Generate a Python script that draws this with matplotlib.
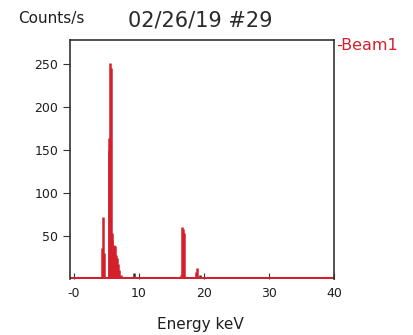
import numpy as np
import matplotlib.pyplot as plt

# peak lines (keV, counts/s)
energy = [4.26, 4.40, 4.52, 4.62, 5.38, 5.45, 5.52, 5.62, 5.66, 5.80, 5.90,
          6.05, 6.20, 6.30, 6.45, 6.60, 6.80, 7.00, 7.20, 9.30,
          16.40, 16.62, 16.72, 16.90, 18.80, 18.95, 19.40]
counts = [36, 20, 72, 30, 150, 164, 160, 251, 245, 45, 53,
          30, 40, 38, 28, 25, 18, 10, 5, 7,
          5, 61, 58, 53, 8, 13, 5]
black_lines = [9.30, 19.40]

xticks = [0, 10, 20, 30, 40]
xlabels = ["-0", "10", "20", "30", "40"]
yticks = [50, 100, 150, 200, 250]

red = "#d4202c"
dark = "#333333"
txt = "#1e1e1e"

fig = plt.figure(figsize=(4.14, 3.35), dpi=100)
ax = fig.add_axes([70/414, 56/335, 264/414, 239/335])

for e, c in zip(energy, counts):
    col = dark if e in black_lines else red
    ax.vlines(e, 0, c, color=col, linewidth=1.8)
ax.axhline(1.0, color=red, linewidth=2.2)

ax.set_xlim(-0.6, 40)
ax.set_ylim(0, 278)
ax.set_xticks(xticks)
ax.set_xticklabels(xlabels)
ax.set_yticks(yticks)
ax.tick_params(axis='y', direction='out', length=5, color=dark, labelsize=9, labelcolor=txt)
ax.tick_params(axis='x', direction='in', length=4, color=dark, labelsize=9, labelcolor=txt, pad=6)
for s in ['left', 'top', 'right']:
    ax.spines[s].set_color(dark)
    ax.spines[s].set_linewidth(1.2)
ax.spines['bottom'].set_visible(False)

fig.text(18/414, 1 - 18/335, "Counts/s", fontsize=11, color=txt, va='center', ha='left')
fig.text(200/414, 1 - 21/335, "02/26/19 #29", fontsize=15, color='#2a2a2a', va='center', ha='center')
fig.text(336/414, 1 - 45/335, "-Beam1", fontsize=11.5, color=red, va='center', ha='left')
fig.text(200/414, 1 - 324/335, "Energy keV", fontsize=11, color=txt, va='center', ha='center')

plt.savefig("out.png", dpi=100)
